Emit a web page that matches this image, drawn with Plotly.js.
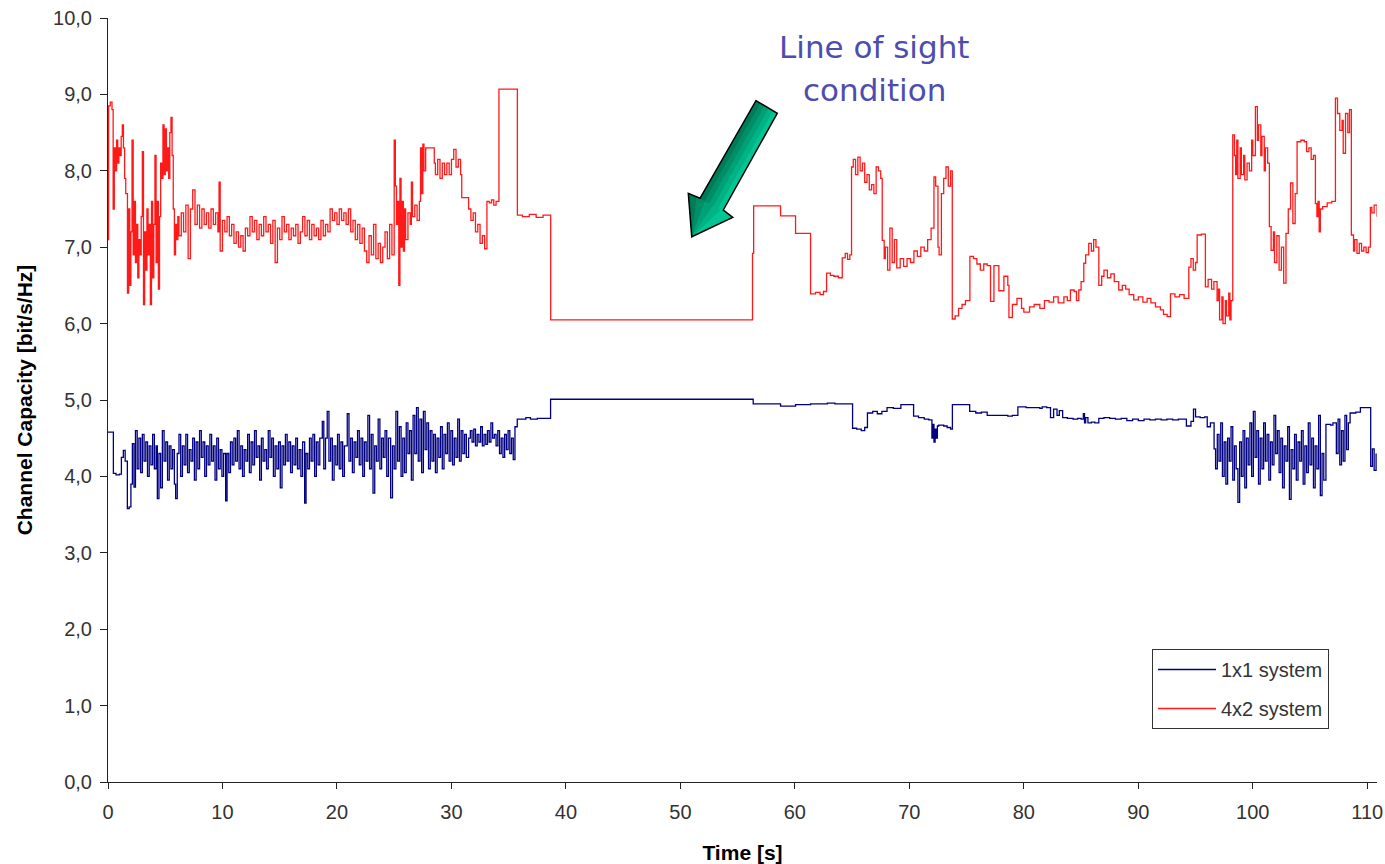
<!DOCTYPE html>
<html>
<head>
<meta charset="utf-8">
<script src="https://cdn.plot.ly/plotly-3.0.1.min.js"></script>
<style>html,body{margin:0;padding:0;background:#fff;}#chart{width:1385px;height:864px;}</style>
</head>
<body>
<div id="chart"></div>
<script>
// ---- data: [time s, capacity bit/s/Hz] ----
const seriesNames = ["1x1 system", "4x2 system"];

const red4x2 = [
[0,7.1],[0.05,8.85],[0.2,8.9],[0.35,8.8],[0.45,7.5],[0.55,8.3],[0.65,8.0],[0.75,8.4],[0.85,8.1],[0.95,8.3],[1.05,8.2],[1.15,8.45],[1.25,8.6],[1.35,8.3],[1.45,7.9],[1.55,7.7],
[1.7,6.4],[1.8,7.5],[1.9,6.5],[2.0,7.2],[2.1,8.4],[2.2,6.9],[2.3,7.6],[2.4,6.8],[2.5,7.3],[2.6,6.6],[2.7,7.1],[2.8,6.9],[2.9,7.4],[3.0,8.25],[3.1,6.25],[3.2,7.2],[3.3,6.7],[3.4,7.5],[3.5,6.9],[3.6,7.3],[3.7,6.25],[3.8,7.6],[3.9,6.6],[4.0,7.3],[4.1,8.2],[4.2,6.8],[4.3,7.6],[4.4,6.45],[4.5,7.4],
[4.6,8.1],[4.7,7.9],[4.8,8.6],[4.9,7.95],[5.0,8.55],[5.1,8.0],[5.2,8.3],[5.3,7.9],[5.4,8.5],[5.5,8.7],[5.6,8.2],[5.7,7.5],[5.8,6.9],[5.9,7.3],[6.0,7.1],[6.1,7.4],
[6.2,7.15],[6.4,7.45],[6.6,7.2],[6.8,7.55],[7.0,6.85],[7.2,7.5],[7.4,7.75],[7.6,7.3],[7.8,7.55],[8.0,7.25],[8.2,7.5],[8.4,7.3],[8.6,7.45],[8.8,7.25],[9.0,7.5],[9.2,7.3],[9.4,7.45],[9.6,7.2],[9.7,7.85],[9.8,6.95],
[10.0,7.35],[10.2,7.2],[10.4,7.4],[10.6,7.15],[10.8,7.3],[11.0,7.05],[11.2,7.2],[11.4,7.0],[11.6,7.15],[11.8,6.95],[12.0,7.25],[12.2,7.15],[12.4,7.4],[12.6,7.2],[12.8,7.35],[13.0,7.1],[13.2,7.3],[13.4,7.15],[13.6,7.4],[13.8,7.2],
[14.0,7.3],[14.2,7.05],[14.4,7.35],[14.6,6.8],[14.8,7.25],[15.0,7.1],[15.2,7.4],[15.4,7.2],[15.6,7.3],[15.8,7.1],[16.0,7.25],[16.2,7.15],[16.4,7.3],[16.6,7.05],[16.8,7.2],[17.0,7.4],[17.2,7.15],[17.4,7.35],[17.6,7.1],[17.8,7.3],
[18.0,7.15],[18.2,7.25],[18.4,7.1],[18.6,7.35],[18.8,7.15],[19.0,7.3],[19.2,7.2],[19.4,7.5],[19.6,7.35],[19.8,7.45],[20.0,7.3],[20.2,7.5],[20.4,7.35],[20.6,7.45],[20.8,7.3],[21.0,7.5],[21.2,7.2],[21.4,7.35],[21.6,7.1],[21.8,7.3],
[22.0,7.05],[22.2,7.25],[22.4,6.95],[22.6,6.8],[22.8,7.15],[23.0,6.9],[23.2,7.3],[23.4,6.85],[23.6,7.05],[23.8,6.8],[24.0,7.0],[24.2,7.2],[24.4,6.85],[24.6,7.3],[24.8,6.9],
[25.0,8.4],[25.1,7.8],[25.2,7.3],[25.3,7.6],[25.4,6.5],[25.5,7.9],[25.6,7.0],[25.7,7.6],[25.8,6.95],[25.9,7.5],[26.0,7.1],[26.2,7.45],[26.4,7.3],[26.5,7.85],[26.6,7.4],[26.8,7.55],[27.0,7.35],[27.2,7.6],
[27.3,8.3],[27.4,7.7],[27.5,8.35],[27.6,8.0],[27.75,8.3],[28.5,8.1],[28.6,7.95],[28.8,8.15],[29.0,7.9],[29.2,8.1],[29.4,7.95],[29.6,8.1],[29.8,7.95],[30.0,8.15],[30.2,8.28],[30.4,8.05],[30.6,8.15],[30.8,7.95],
[30.9,7.65],[31.5,7.5],[31.7,7.35],[31.9,7.45],[32.1,7.2],[32.3,7.3],[32.5,7.05],[32.7,7.15],[32.9,6.98],[33.1,7.6],[33.3,7.58],[33.5,7.62],[33.7,7.55],[33.9,7.6],
[34.15,9.07],[35.76,7.42],[36.2,7.4],[36.8,7.43],[37.4,7.39],[38.0,7.42],[38.67,6.05],[56.3,6.92],[56.4,7.54],[58.75,7.41],[60.06,7.18],
[61.37,6.39],[61.8,6.41],[62.2,6.38],[62.5,6.42],[62.77,6.66],[63.1,6.63],[63.4,6.62],[63.8,6.6],[64.14,6.86],[64.4,6.92],[64.6,6.84],[64.8,6.9],
[64.95,8.05],[65.1,8.15],[65.3,7.95],[65.5,8.18],[65.7,8.0],[65.9,8.1],[66.1,7.85],[66.3,7.95],[66.5,7.75],[66.7,7.82],[66.9,7.7],[67.1,8.05],[67.3,8.0],[67.5,7.9],
[67.63,7.09],[67.8,6.85],[67.9,7.0],[68.1,6.7],[68.3,7.25],[68.5,6.8],[68.7,7.1],[68.9,6.73],[69.2,6.85],[69.5,6.75],[69.8,6.85],[70.1,6.8],[70.4,6.95],[70.7,6.88],[71.0,7.0],[71.3,6.95],[71.6,7.1],[71.9,7.25],
[72.15,7.92],[72.3,7.8],[72.5,7.0],[72.6,6.9],[72.8,7.7],[73.0,7.9],[73.2,8.05],[73.4,7.8],[73.6,8.0],
[73.75,6.06],[74.0,6.1],[74.3,6.2],[74.6,6.25],[74.9,6.3],[75.29,6.88],[75.6,6.85],[75.9,6.78],[76.2,6.7],[76.5,6.78],[76.8,6.76],
[77.09,6.29],[77.39,6.76],[77.82,6.43],[78.26,6.62],[78.6,6.5],[78.7,6.08],[79.0,6.25],[79.4,6.33],[79.8,6.2],[80.0,6.15],[80.5,6.22],[80.9,6.25],[81.4,6.2],[81.8,6.3],[82.2,6.28],[82.6,6.35],[83.0,6.27],
[83.2,6.27],[83.5,6.35],[83.8,6.3],[84.07,6.44],[84.4,6.42],[84.6,6.3],[84.8,6.44],[85.0,6.55],[85.24,6.79],[85.4,6.9],[85.67,7.05],[85.9,6.95],[86.1,7.1],[86.3,7.0],
[86.55,6.5],[86.8,6.62],[87.0,6.7],[87.3,6.6],[87.6,6.65],[87.9,6.55],[88.29,6.44],[88.6,6.5],[88.9,6.45],[89.2,6.38],[89.6,6.31],[90.0,6.35],[90.4,6.28],[90.77,6.33],[91.1,6.27],[91.5,6.22],[91.93,6.18],[92.2,6.12],[92.52,6.09],
[92.81,6.39],[93.2,6.35],[93.6,6.38],[94.0,6.33],[94.41,6.74],[94.6,6.85],[94.8,6.7],[95.0,6.8],[95.14,7.16],[95.5,7.17],
[95.86,6.48],[96.1,6.58],[96.4,6.45],[96.6,6.55],[96.88,6.3],[97.0,6.45],[97.1,6.05],[97.3,6.35],[97.4,6.0],[97.6,6.3],[97.7,6.1],[97.9,6.4],[98.0,6.05],[98.1,6.3],
[98.25,8.47],[98.4,8.2],[98.5,7.95],[98.6,8.4],[98.7,7.9],[98.9,8.3],[99.0,7.95],[99.2,8.2],[99.3,7.88],[99.5,8.1],[99.7,8.0],[99.9,8.4],[100.0,8.2],
[100.23,8.84],[100.4,8.4],[100.5,8.6],[100.7,8.2],[100.8,8.45],[101.0,8.0],[101.1,8.3],[101.3,8.1],
[101.45,7.27],[101.6,6.96],[101.8,7.2],[101.9,6.8],[102.1,7.15],[102.3,6.7],[102.5,7.0],[102.7,6.53],[102.9,7.18],[103.1,7.5],[103.3,7.84],[103.5,7.31],[103.7,7.7],
[103.87,8.38],[104.2,8.4],[104.5,8.38],[104.7,8.25],[104.9,8.3],[105.1,8.15],[105.3,8.2],
[105.47,7.57],[105.6,7.4],[105.7,7.6],[105.8,7.2],[105.9,7.5],[106.1,7.53],[106.5,7.58],[106.9,7.6],
[107.22,8.95],[107.4,8.75],[107.6,8.53],[107.8,8.66],[107.9,8.23],[108.1,8.75],[108.3,8.5],[108.45,8.8],
[108.61,7.16],[108.8,6.95],[108.9,7.1],[109.1,6.92],[109.3,7.05],[109.5,6.95],[109.7,7.0],[109.9,6.93],[110.1,7.0],[110.27,7.52],[110.4,7.45],[110.6,7.55],[110.86,7.4]
];

const blue1x1 = [
[0,4.58],[0.47,4.04],[0.7,4.02],[1.0,4.03],[1.17,4.25],[1.34,4.34],[1.5,4.2],[1.69,3.58],[1.85,3.6],[2.0,3.9],[2.13,4.43],[2.27,3.86],[2.4,4.6],[2.55,4.1],[2.7,4.5],[2.85,4.05],
[3.0,4.55],[3.15,4.2],[3.3,4.45],[3.45,4.0],[3.6,4.4],[3.75,4.15],[3.9,4.55],[4.05,4.1],[4.2,4.4],[4.31,3.71],[4.45,4.3],[4.6,3.85],[4.75,4.6],[4.9,4.2],
[5.05,4.45],[5.2,3.95],[5.35,4.4],[5.5,4.1],[5.65,4.35],[5.8,3.9],[5.91,3.71],[6.05,4.3],[6.2,4.55],[6.35,4.0],[6.5,4.4],[6.65,4.15],[6.8,4.55],[6.95,4.05],
[7.1,4.35],[7.25,4.2],[7.4,4.5],[7.55,3.95],[7.7,4.45],[7.85,4.1],[8.0,4.6],[8.15,4.25],[8.3,4.45],[8.45,4.0],[8.6,4.4],[8.75,4.15],[8.9,4.55],
[9.05,4.2],[9.2,4.4],[9.35,3.95],[9.5,4.5],[9.65,4.1],[9.8,4.35],[9.95,4.0],[10.1,4.3],[10.28,3.68],[10.4,4.3],[10.55,4.05],[10.7,4.45],[10.85,4.15],
[11.0,4.5],[11.15,4.2],[11.3,4.6],[11.45,4.1],[11.6,4.4],[11.75,4.0],[11.9,4.35],[12.05,4.2],[12.2,4.55],[12.35,4.05],[12.5,4.45],[12.65,4.15],[12.8,4.6],[12.95,4.25],
[13.1,4.4],[13.25,3.95],[13.4,4.5],[13.55,4.2],[13.7,4.35],[13.85,4.1],[14.0,4.6],[14.15,4.25],[14.3,4.5],[14.45,4.0],[14.6,4.4],[14.75,4.1],[14.9,4.45],
[15.05,3.85],[15.2,4.4],[15.35,4.15],[15.5,4.55],[15.65,4.2],[15.8,4.45],[15.95,4.05],[16.1,4.4],[16.25,4.15],[16.4,4.5],[16.55,4.1],[16.7,4.35],[16.85,4.0],
[17.0,4.45],[17.18,3.65],[17.3,4.3],[17.45,4.1],[17.6,4.5],[17.75,4.2],[17.9,4.55],[18.05,4.0],[18.2,4.45],[18.35,4.15],[18.5,4.5],[18.72,4.72],[18.85,4.1],
[19.0,4.5],[19.15,4.85],[19.3,4.2],[19.45,4.5],[19.6,3.95],[19.75,4.4],[19.9,4.15],[20.05,4.55],[20.2,4.1],[20.35,4.45],[20.5,4.0],[20.65,4.4],[20.9,4.82],
[21.05,4.2],[21.2,4.5],[21.35,4.05],[21.5,4.45],[21.65,4.25],[21.8,4.6],[21.95,4.15],[22.1,4.5],[22.25,4.0],[22.4,4.45],[22.55,4.2],[22.7,4.8],[22.85,4.1],
[23.0,4.55],[23.15,3.78],[23.3,4.4],[23.45,4.2],[23.6,4.75],[23.75,4.1],[23.9,4.5],[24.05,4.25],[24.2,4.6],[24.35,4.0],[24.5,4.5],[24.69,3.72],[24.85,4.4],
[25.0,4.1],[25.15,4.85],[25.3,4.2],[25.45,4.65],[25.6,4.0],[25.75,4.5],[25.9,4.05],[26.05,4.7],[26.2,4.3],[26.35,4.6],[26.5,3.95],[26.65,4.8],[26.8,4.3],
[26.95,4.9],[27.1,4.2],[27.25,4.75],[27.4,4.05],[27.55,4.85],[27.7,4.35],[27.85,4.7],[28.0,4.1],[28.15,4.6],[28.3,4.2],[28.45,4.55],[28.6,4.05],[28.75,4.5],
[28.9,4.25],[29.05,4.65],[29.2,4.1],[29.35,4.55],[29.5,4.3],[29.65,4.7],[29.8,4.2],[29.95,4.6],[30.1,4.15],[30.25,4.5],[30.4,4.25],[30.55,4.75],[30.7,4.2],
[30.85,4.6],[31.0,4.3],[31.15,4.55],[31.3,4.25],[31.5,4.5],[31.65,4.6],[31.8,4.45],[31.95,4.62],[32.1,4.4],[32.25,4.55],[32.4,4.45],[32.55,4.65],[32.7,4.4],
[32.85,4.55],[33.0,4.42],[33.15,4.6],[33.3,4.45],[33.45,4.7],[33.6,4.5],[33.75,4.55],[33.9,4.4],[34.05,4.6],[34.2,4.3],[34.35,4.5],[34.5,4.25],[34.65,4.55],
[34.8,4.35],[34.95,4.6],[35.1,4.3],[35.25,4.5],[35.4,4.22],[35.55,4.65],[35.75,4.75],[36.5,4.77],[36.9,4.75],[37.5,4.76],[38.66,5.01],
[56.36,4.95],[58.75,4.92],[60.06,4.94],[61.37,4.95],[62.83,4.96],[63.5,4.95],
[65.04,4.63],[65.4,4.62],[65.8,4.6],[66.1,4.64],[66.34,4.83],[66.8,4.85],[67.2,4.82],[67.6,4.85],[68.05,4.9],[68.6,4.89],[69.26,4.94],[69.8,4.94],
[70.37,4.79],[70.8,4.77],[71.3,4.75],[71.7,4.74],[71.97,4.5],[72.05,4.68],[72.15,4.45],[72.25,4.62],[72.35,4.5],[72.45,4.66],[72.56,4.67],[73.0,4.66],[73.3,4.64],[73.6,4.62],
[73.76,4.94],[74.5,4.94],[75.27,4.85],[75.8,4.83],[76.3,4.84],[76.8,4.8],[77.4,4.8],[78.0,4.8],[78.6,4.79],[79.0,4.8],
[79.48,4.91],[80.2,4.9],[80.8,4.9],[81.4,4.89],[81.6,4.91],[82.0,4.9],[82.33,4.77],[82.6,4.88],[82.9,4.8],[83.1,4.86],[83.39,4.77],[83.8,4.76],[84.3,4.75],[84.7,4.76],[85.0,4.75],
[85.2,4.82],[85.3,4.7],[85.4,4.77],[85.6,4.7],[85.9,4.71],[86.2,4.7],[86.55,4.76],[87.0,4.77],[87.5,4.76],[88.0,4.75],[88.5,4.76],[89.0,4.73],[89.5,4.75],[90.0,4.73],
[90.5,4.75],[91.0,4.74],[91.5,4.75],[92.0,4.74],[92.5,4.75],[93.0,4.74],[93.5,4.75],[94.2,4.66],[94.6,4.72],[94.82,4.88],[95.0,4.78],[95.4,4.77],[95.8,4.78],[96.02,4.65],[96.3,4.7],
[96.62,4.36],[96.75,4.1],[96.9,4.55],[97.05,4.2],[97.2,4.7],[97.35,4.0],[97.5,4.45],[97.65,3.9],[97.8,4.5],[97.95,4.2],[98.1,4.65],[98.25,3.95],[98.4,4.4],[98.55,4.1],
[98.7,3.66],[98.85,4.45],[99.0,4.0],[99.15,4.6],[99.3,3.85],[99.45,4.5],[99.6,4.15],[99.75,4.7],[99.9,4.0],[100.05,4.85],[100.2,4.25],[100.35,4.6],[100.5,3.9],
[100.65,4.5],[100.8,4.1],[100.95,4.7],[101.1,4.2],[101.25,4.55],[101.4,3.95],[101.55,4.45],[101.7,4.15],[101.85,4.8],[102.0,4.3],[102.15,4.6],[102.3,4.05],
[102.45,4.5],[102.6,3.85],[102.75,4.4],[102.9,4.2],[103.05,4.65],[103.2,3.7],[103.35,4.35],[103.5,4.1],[103.65,4.55],[103.8,3.95],[103.95,4.45],[104.1,4.2],
[104.25,4.6],[104.4,3.9],[104.55,4.4],[104.7,4.05],[104.85,4.7],[105.0,4.15],[105.15,4.5],[105.3,3.85],[105.45,4.4],[105.6,4.1],[105.75,4.8],[105.9,3.75],
[106.05,4.3],[106.2,3.95],[106.39,4.68],[106.8,4.67],[107.0,4.7],[107.3,4.3],[107.45,4.75],[107.6,4.15],[107.75,4.6],[107.9,4.2],[108.05,4.8],[108.2,4.35],
[108.35,4.7],[108.5,4.83],[109.0,4.84],[109.4,4.9],[110.3,4.13],[110.45,4.36],[110.6,4.08],[110.77,4.3]
];

const yTicks = [0,1,2,3,4,5,6,7,8,9,10];
const xTicks = [0,10,20,30,40,50,60,70,80,90,100,110];
const annotationLines = ["Line of sight", "condition"];

// ---- layout geometry (pixels of the 1385x864 page) ----
const W = 1385, H = 864;
const M = {l:108, r:8, t:18, b:82};
const pw = W - M.l - M.r, ph = H - M.t - M.b;
const px2x = p => (p - M.l) / pw;
const py2y = p => (H - M.b - p) / ph;

const arrowPx = [[756,100.7],[777.3,113.3],[723.3,210],[732.7,217.3],[691.7,236.7],[688.3,193.3],[700,198.3]];
const toPath = pts => pts.map((p,i)=> (i?'L':'M') + px2x(p[0]).toFixed(4) + ',' + py2y(p[1]).toFixed(4)).join(' ') + ' Z';
const arrowPath = toPath(arrowPx);
// shading bands across the arrow (dark on the left edge, light on the right edge)
const lerp = (a,b,t)=>[a[0]+(b[0]-a[0])*t, a[1]+(b[1]-a[1])*t];
const A = arrowPx;
const band = f => toPath([A[0], lerp(A[0],A[1],f), lerp(A[6],A[2],f), lerp(A[5],A[3],f*0.9), A[4], A[5], A[6]]);
const shadeColors = ['#00c594','#00b385','#00a176','#008e67','#007b58'];
const shadeFracs = [1, 0.8, 0.6, 0.4, 0.2];

const traces = [
  {x: blue1x1.map(p=>p[0]), y: blue1x1.map(p=>p[1]), name: seriesNames[0], type:'scatter', mode:'lines',
   line:{color:'#000080', width:1.3, shape:'hv'}, legendgroup:'a', hoverinfo:'skip'},
  {x: red4x2.map(p=>p[0]), y: red4x2.map(p=>p[1]), name: seriesNames[1], type:'scatter', mode:'lines',
   line:{color:'#ff1a1a', width:1.3, shape:'hv'}, legendgroup:'b', hoverinfo:'skip'}
];

const axisFont = {family:'"Liberation Sans", Arial, sans-serif', size:20, color:'#333333'};
const titleFont = {family:'"Liberation Sans", Arial, sans-serif', size:21, color:'#000000', weight:'bold'};

const shapes = shadeFracs.map((f,i)=>({type:'path', xref:'paper', yref:'paper', path: i===0 ? arrowPath : band(f),
  fillcolor: shadeColors[i], line:{width:0}}));
shapes.push({type:'path', xref:'paper', yref:'paper', path: arrowPath,
  fillcolor:'rgba(0,0,0,0)', line:{color:'#000000', width:1.5}});

const layout = {
  width: W, height: H,
  margin: M,
  paper_bgcolor:'#ffffff', plot_bgcolor:'#ffffff',
  separators: ',.',
  showlegend: true,
  xaxis: {
    range:[0, 110.85], tickvals: xTicks, ticktext: xTicks.map(String),
    showgrid:false, zeroline:false, showline:true, linecolor:'#222', linewidth:1,
    ticks:'outside', ticklen:6, tickcolor:'#222', tickfont: axisFont, ticklabelstandoff:6,
    title:{text:'<b>Time [s]</b>', font:titleFont, standoff:23}
  },
  yaxis: {
    range:[0, 10], tickvals: yTicks, ticktext: yTicks.map(v=>v.toFixed(1).replace('.',',')),
    showgrid:false, zeroline:false, showline:true, linecolor:'#222', linewidth:1,
    ticks:'outside', ticklen:7, tickcolor:'#222', tickfont: axisFont, ticklabelstandoff:4,
    title:{text:'<b>Channel Capacity [bit/s/Hz]</b>', font:titleFont, standoff:14}
  },
  legend: {
    x: px2x(1152), y: py2y(649), xanchor:'left', yanchor:'top',
    bgcolor:'#ffffff', bordercolor:'#333333', borderwidth:1,
    font:{family:'"Liberation Sans", Arial, sans-serif', size:20, color:'#333333'},
    tracegroupgap: 10, traceorder:'grouped', itemwidth:58
  },
  shapes: shapes,
  annotations: [
    {xref:'paper', yref:'paper', x: px2x(874), y: py2y(47), text: annotationLines[0], showarrow:false,
     xanchor:'center', yanchor:'middle', font:{family:'"DejaVu Sans", Verdana, sans-serif', size:31, color:'#4d4daf'}},
    {xref:'paper', yref:'paper', x: px2x(874), y: py2y(90), text: annotationLines[1], showarrow:false,
     xanchor:'center', yanchor:'middle', font:{family:'"DejaVu Sans", Verdana, sans-serif', size:31, color:'#4d4daf'}}
  ]
};

Plotly.newPlot('chart', traces, layout, {displayModeBar:false, staticPlot:true});
</script>
</body>
</html>
